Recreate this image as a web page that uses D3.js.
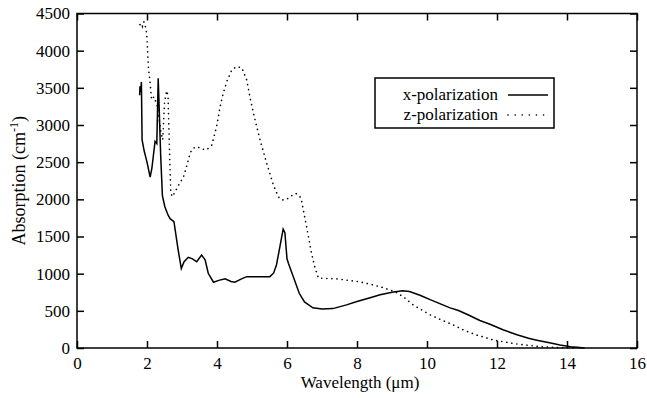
<!DOCTYPE html>
<html>
<head>
<meta charset="utf-8">
<script src="https://cdn.jsdelivr.net/npm/d3@7"></script>
</head>
<body style="margin:0; background:#fff">
<div id="chart"></div>
<script>
// x-polarization: [wavelength (um), absorption (cm^-1)]
var xPolWave = [1.79, 1.80, 1.82, 1.84, 1.86, 1.92, 2.00, 2.09, 2.14, 2.18, 2.23, 2.28, 2.32, 2.35, 2.39, 2.44, 2.51, 2.60, 2.66, 2.77, 2.89, 2.98, 3.06, 3.18, 3.30, 3.42, 3.56, 3.66, 3.75, 3.90, 4.05, 4.23, 4.40, 4.51, 4.70, 4.85, 5.20, 5.51, 5.62, 5.70, 5.80, 5.89, 5.94, 6.00, 6.04, 6.18, 6.35, 6.50, 6.74, 7.00, 7.31, 7.70, 8.00, 8.40, 8.66, 9.00, 9.30, 9.50, 9.80, 10.09, 10.40, 10.66, 10.90, 11.20, 11.51, 11.80, 12.17, 12.57, 12.90, 13.14, 13.50, 13.80, 14.10, 14.29, 14.50];
var xPolAbs = [3400, 3520, 3450, 3580, 2800, 2650, 2500, 2300, 2420, 2580, 2780, 2750, 3630, 3200, 2600, 2050, 1900, 1790, 1740, 1700, 1320, 1070, 1160, 1220, 1200, 1160, 1250, 1185, 1005, 885, 910, 930, 895, 885, 930, 960, 960, 960, 1010, 1120, 1370, 1600, 1550, 1200, 1140, 960, 736, 620, 540, 525, 530, 580, 625, 680, 715, 750, 770, 760, 710, 650, 590, 540, 505, 440, 370, 320, 245, 178, 130, 105, 70, 40, 18, 9, 0];

// z-polarization
var zPolWave = [1.80, 1.84, 1.87, 1.90, 1.93, 1.99, 2.04, 2.09, 2.13, 2.20, 2.30, 2.40, 2.45, 2.50, 2.56, 2.60, 2.64, 2.68, 2.73, 2.80, 2.94, 3.04, 3.13, 3.23, 3.30, 3.42, 3.55, 3.70, 3.85, 3.99, 4.09, 4.18, 4.28, 4.42, 4.56, 4.71, 4.85, 4.94, 5.04, 5.23, 5.42, 5.61, 5.75, 5.85, 5.99, 6.10, 6.25, 6.37, 6.42, 6.56, 6.70, 6.80, 6.90, 7.42, 8.09, 8.66, 9.09, 9.35, 9.61, 10.09, 10.40, 10.75, 11.05, 11.42, 11.89, 12.56, 13.23, 13.80, 14.28];
var zPolAbs = [4350, 4370, 4330, 4390, 4380, 4240, 3780, 3560, 3340, 3380, 3250, 2900, 2800, 3300, 3460, 3400, 2700, 2080, 2035, 2100, 2220, 2300, 2440, 2620, 2680, 2710, 2680, 2665, 2730, 2980, 3250, 3430, 3585, 3740, 3785, 3770, 3605, 3380, 3160, 2800, 2485, 2195, 2035, 1990, 2000, 2040, 2080, 2040, 1970, 1630, 1275, 1080, 940, 930, 890, 825, 757, 680, 578, 445, 380, 310, 240, 175, 108, 54, 18, 4, 0];

var xTicks = [0, 2, 4, 6, 8, 10, 12, 14, 16];
var yTicks = [0, 500, 1000, 1500, 2000, 2500, 3000, 3500, 4000, 4500];

var seriesNames = ["x-polarization", "z-polarization"];

var serif = "'Liberation Serif'";

var margin = { top: 13.5, right: 10, bottom: 50, left: 77 };
var width = 647 - margin.left - margin.right;
var height = 398 - margin.top - margin.bottom;

var root = d3.select("#chart")
  .append("svg")
  .attr("width", 647)
  .attr("height", 398);

var svg = root.append("g")
  .attr("transform", "translate(" + margin.left + "," + margin.top + ")");

var x = d3.scaleLinear().domain([0, 16]).range([0, width]);
var y = d3.scaleLinear().domain([0, 4500]).range([height, 0]);

// axes: ticks point inward on all four sides
function styleAxis(g) {
  g.attr("font-family", null).attr("font-size", null);
  g.select(".domain").remove();
  g.selectAll(".tick line").attr("stroke", "#000").attr("stroke-width", 1.5);
  g.selectAll(".tick text")
    .attr("font-size", 17)
    .style("font-family", serif)
    .attr("fill", "#000");
}

svg.append("g")
  .attr("transform", "translate(0," + height + ")")
  .call(d3.axisBottom(x).tickValues(xTicks).tickSize(-7).tickPadding(9).tickFormat(d3.format("d")))
  .call(styleAxis);

svg.append("g")
  .call(d3.axisTop(x).tickValues(xTicks).tickSize(-7).tickFormat(""))
  .call(styleAxis);

svg.append("g")
  .call(d3.axisLeft(y).tickValues(yTicks).tickSize(-7).tickPadding(7).tickFormat(d3.format("d")))
  .call(styleAxis);

svg.append("g")
  .attr("transform", "translate(" + width + ",0)")
  .call(d3.axisRight(y).tickValues(yTicks).tickSize(-7).tickFormat(""))
  .call(styleAxis);

svg.append("rect")
  .attr("width", width)
  .attr("height", height)
  .attr("fill", "none")
  .attr("stroke", "#000")
  .attr("stroke-width", 1.5);

var line = d3.line()
  .x(function(d) { return x(d[0]); })
  .y(function(d) { return y(d[1]); });

var xPolData = xPolWave.map(function(w, i) { return [w, xPolAbs[i]]; });
var zPolData = zPolWave.map(function(w, i) { return [w, zPolAbs[i]]; });

svg.append("path")
  .datum(zPolData)
  .attr("d", line)
  .attr("fill", "none")
  .attr("stroke", "#000")
  .attr("stroke-width", 1.6)
  .attr("stroke-linecap", "round")
  .attr("stroke-dasharray", "0.1,5");

svg.append("path")
  .datum(xPolData)
  .attr("d", line)
  .attr("fill", "none")
  .attr("stroke", "#000")
  .attr("stroke-width", 1.5);

// axis titles
svg.append("text")
  .attr("x", width / 2 + 3)
  .attr("y", height + 40)
  .attr("text-anchor", "middle")
  .attr("font-size", 17)
  .style("font-family", serif)
  .text("Wavelength (\u03bcm)");

var yTitle = svg.append("text")
  .attr("transform", "translate(" + (25 - margin.left) + "," + (height / 2) + ")rotate(-90)")
  .attr("text-anchor", "middle")
  .attr("font-size", 18)
  .style("font-family", serif);
yTitle.append("tspan").text("Absorption (cm");
yTitle.append("tspan").attr("font-size", 12).attr("dy", -7).text("-1");
yTitle.append("tspan").attr("dy", 7).text(")");

// legend
var legend = svg.append("g").attr("transform", "translate(" + (375 - margin.left) + "," + (78 - margin.top) + ")");
legend.append("rect")
  .attr("width", 179)
  .attr("height", 50)
  .attr("fill", "#fff")
  .attr("stroke", "#000")
  .attr("stroke-width", 1.5);

seriesNames.forEach(function(name, i) {
  var ly = 17 + i * 20;
  legend.append("text")
    .attr("x", 123)
    .attr("y", ly + 5)
    .attr("text-anchor", "end")
    .attr("font-size", 17)
    .style("font-family", serif)
    .text(name);
  legend.append("line")
    .attr("x1", 133)
    .attr("x2", 173)
    .attr("y1", ly)
    .attr("y2", ly)
    .attr("stroke", "#000")
    .attr("stroke-width", i === 0 ? 1.5 : 1.6)
    .attr("stroke-linecap", i === 0 ? "butt" : "round")
    .attr("stroke-dasharray", i === 0 ? null : "0.1,7");
});
</script>
</body>
</html>
